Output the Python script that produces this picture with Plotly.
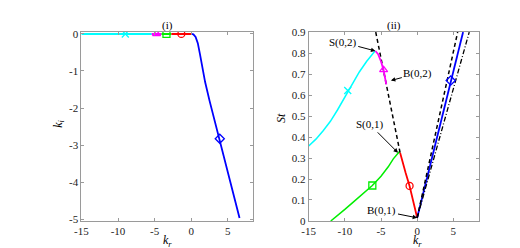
import plotly.graph_objects as go

# ---------------- data ----------------
# panel (i): k_i vs k_r
cyan_l_kr = [-15, -5.4]
cyan_l_ki = [0, 0]
magenta_l_kr = [-5.4, -4.05]
magenta_l_ki = [0, 0]
green_l_kr = [-4.05, -2.7]
green_l_ki = [0, 0]
red_l_kr = [-2.7, 0.0]
red_l_ki = [0, 0]
blue_l_kr = [0.0, 0.3, 0.6, 0.9, 1.2, 1.5, 1.9, 2.5, 3.2, 3.9, 4.6, 5.3, 6.0, 6.6]
blue_l_ki = [0.0, -0.01, -0.08, -0.25, -0.55, -0.92, -1.3, -1.8, -2.35, -2.85, -3.4, -3.95, -4.5, -4.97]
mark_l_kr = {"cyan": -9.0, "magenta": -4.73, "green": -3.38, "red": -1.35, "blue": 3.9}
mark_l_ki = {"cyan": 0.0, "magenta": 0.0, "green": 0.0, "red": 0.0, "blue": -2.83}

# panel (ii): St vs k_r
cyan_r_kr = [-15, -14, -13, -12, -11, -10, -9.6, -9, -8, -7, -6.5, -6, -5.77]
cyan_r_st = [0.357, 0.39, 0.43, 0.475, 0.53, 0.59, 0.62, 0.655, 0.71, 0.76, 0.783, 0.803, 0.81]
magenta_r_kr = [-5.77, -5.4, -5.0, -4.64, -4.27]
magenta_r_st = [0.81, 0.795, 0.76, 0.718, 0.651]
green_r_kr = [-11.95, -11, -10, -9, -8, -7, -6.2, -5, -4, -3.3, -2.8, -2.5, -2.36]
green_r_st = [0.0, 0.025, 0.055, 0.085, 0.115, 0.143, 0.169, 0.213, 0.258, 0.296, 0.32, 0.329, 0.33]
red_r_kr = [-2.36, -2.1, -1.6, -1.05, -0.5, 0.0]
red_r_st = [0.325, 0.29, 0.23, 0.167, 0.09, 0.015]
blue_r_kr = [0.0, 4.64, 6.35]
blue_r_st = [0.015, 0.669, 0.9]
dash_sep_kr = [-5.73, -2.36]
dash_sep_st = [0.9, 0.325]
dash_right_kr = [0.0, 5.6]
dash_right_st = [0.015, 0.9]
dashdot_kr = [0.0, 7.2]
dashdot_st = [0.015, 0.9]
mark_r_kr = {"cyan": -9.6, "magenta": -4.64, "green": -6.2, "red": -1.05, "blue": 4.64}
mark_r_st = {"cyan": 0.622, "magenta": 0.72, "green": 0.169, "red": 0.167, "blue": 0.669}

x_ticks = [-15, -10, -5, 0, 5]
x_ticktext = ["-15", "-10", "-5", "0", "5"]
yl_ticks = [-5, -4, -3, -2, -1, 0]
yl_ticktext = ["-5", "-4", "-3", "-2", "-1", "0"]
yr_ticks = [0, 0.1, 0.2, 0.3, 0.4, 0.5, 0.6, 0.7, 0.8, 0.9]
yr_ticktext = ["0", "0.1", "0.2", "0.3", "0.4", "0.5", "0.6", "0.7", "0.8", "0.9"]

# ---------------- styling ----------------
W, H = 520, 248
COL = {"cyan": "#00ffff", "magenta": "#ff00ff", "green": "#00ee00", "red": "#ff0000", "blue": "#0000ff"}
SYM = {"cyan": "x-thin-open", "magenta": "triangle-up-open", "green": "square-open",
       "red": "circle-open", "blue": "diamond-open"}
FONT = "Liberation Serif, Times New Roman, serif"

fig = go.Figure()

def line(x, y, color, xa, ya, width=1.5, dash="solid"):
    fig.add_trace(go.Scatter(x=x, y=y, mode="lines", xaxis=xa, yaxis=ya,
                             line=dict(color=color, width=width, dash=dash),
                             showlegend=False, hoverinfo="skip"))

def marker(x, y, name, xa, ya):
    fig.add_trace(go.Scatter(x=[x], y=[y], mode="markers", xaxis=xa, yaxis=ya,
                             marker=dict(symbol=SYM[name], size=7, color=COL[name],
                                         line=dict(color=COL[name], width=1.3)),
                             showlegend=False, hoverinfo="skip"))

# panel (i)
line(cyan_l_kr, cyan_l_ki, COL["cyan"], "x", "y", 2)
line(magenta_l_kr, magenta_l_ki, COL["magenta"], "x", "y", 2)
line(green_l_kr, green_l_ki, COL["green"], "x", "y", 2)
line(red_l_kr, red_l_ki, COL["red"], "x", "y", 2)
line(blue_l_kr, blue_l_ki, COL["blue"], "x", "y", 1.8)
for n in ["cyan", "magenta", "green", "red", "blue"]:
    marker(mark_l_kr[n], mark_l_ki[n], n, "x", "y")

# panel (ii)
line(cyan_r_kr, cyan_r_st, COL["cyan"], "x2", "y2")
line(green_r_kr, green_r_st, COL["green"], "x2", "y2")
line(dash_sep_kr, dash_sep_st, "black", "x2", "y2", 1.5, "4px,3px")
line(magenta_r_kr, magenta_r_st, COL["magenta"], "x2", "y2", 1.8)
line(red_r_kr, red_r_st, COL["red"], "x2", "y2", 1.8)
line(blue_r_kr, blue_r_st, COL["blue"], "x2", "y2", 1.8)
line(dash_right_kr, dash_right_st, "black", "x2", "y2", 1.5, "4px,3px")
line(dashdot_kr, dashdot_st, "black", "x2", "y2", 1.3, "5px,2px,1px,2px")
for n in ["cyan", "magenta", "green", "red", "blue"]:
    marker(mark_r_kr[n], mark_r_st[n], n, "x2", "y2")

# ---------------- layout ----------------
xl0, xl1 = 67.3, 241.7
xr0, xr1 = 297.7, 470.7
yt, yb = 19.0, 217.5

def px(x):
    return x / W

def py(y):
    return 1 - y / H

axis_common = dict(showline=True, linecolor="#9a9a9a", linewidth=1, mirror="ticks",
                   ticks="inside", ticklen=3, tickcolor="#9a9a9a", showgrid=False,
                   zeroline=False, tickfont=dict(family=FONT, size=11, color="#222"))

fig.update_layout(
    width=W, height=H, margin=dict(l=0, r=0, t=0, b=0),
    paper_bgcolor="white", plot_bgcolor="white",
    xaxis=dict(domain=[px(xl0), px(xl1)], range=[-15, 8.5], anchor="y",
               tickvals=x_ticks, ticktext=x_ticktext, **axis_common),
    yaxis=dict(domain=[py(yb), py(yt)], range=[-5.05, 0.05], anchor="x",
               tickvals=yl_ticks, ticktext=yl_ticktext, **axis_common),
    xaxis2=dict(domain=[px(xr0), px(xr1)], range=[-15, 8.6], anchor="y2",
                tickvals=x_ticks, ticktext=x_ticktext, **axis_common),
    yaxis2=dict(domain=[py(yb), py(yt)], range=[0, 0.9], anchor="x2",
                tickvals=yr_ticks, ticktext=yr_ticktext, **axis_common),
)

ann = []
tf = dict(family=FONT, size=11, color="black")
# panel titles
ann.append(dict(x=px((xl0 + xl1) / 2), y=py(12), xref="paper", yref="paper", text="(i)",
                showarrow=False, font=tf, xanchor="center", yanchor="middle"))
ann.append(dict(x=px((xr0 + xr1) / 2), y=py(12.5), xref="paper", yref="paper", text="(ii)",
                showarrow=False, font=tf, xanchor="center", yanchor="middle"))
# axis titles
lf = dict(family=FONT, size=12, color="black")
ann.append(dict(x=px(155), y=py(238.5), xref="paper", yref="paper",
                text="<i>k</i><sub><i>r</i></sub>", showarrow=False, font=lf,
                xanchor="center", yanchor="middle"))
ann.append(dict(x=px(407.7), y=py(238.5), xref="paper", yref="paper",
                text="<i>k</i><sub><i>r</i></sub>", showarrow=False, font=lf,
                xanchor="center", yanchor="middle"))
ann.append(dict(x=px(45), y=py(115), xref="paper", yref="paper",
                text="<i>k</i><sub><i>i</i></sub>", showarrow=False, font=lf, textangle=-90,
                xanchor="center", yanchor="middle"))
ann.append(dict(x=px(269), y=py(109), xref="paper", yref="paper",
                text="<i>St</i>", showarrow=False, font=lf, textangle=-90,
                xanchor="center", yanchor="middle"))
# arrow labels
arrows = [
    ("S(0,2)", -5.77, 0.81, -32.7, -8.6),
    ("B(0,2)", -3.64, 0.669, 27.0, -7.3),
    ("S(0,1)", -2.65, 0.325, -28.3, -28.4),
    ("B(0,1)", 0.0, 0.015, -35.2, -7.0),
]
for txt, x, y, ax, ay in arrows:
    ann.append(dict(x=x, y=y, xref="x2", yref="y2", text=txt, showarrow=True,
                    ax=ax, ay=ay, axref="pixel", ayref="pixel", arrowhead=2, arrowsize=0.9,
                    arrowwidth=1, arrowcolor="black", standoff=0, font=tf))
fig.update_layout(annotations=ann)

fig.write_html("out.html")
